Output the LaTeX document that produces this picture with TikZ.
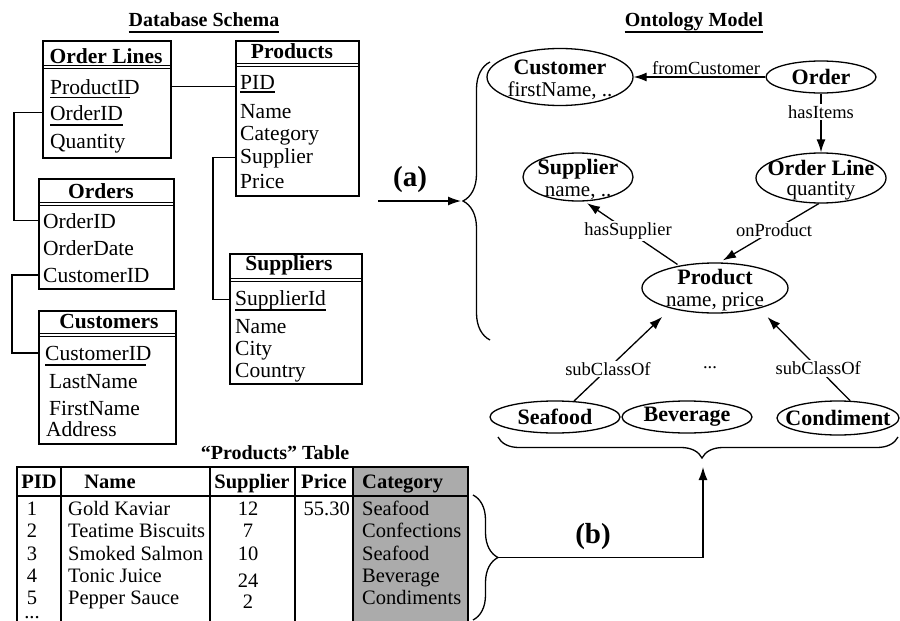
\documentclass[tikz,border=0pt]{standalone}
\usepackage{fontspec}
\setmainfont{Liberation Serif}
\usetikzlibrary{arrows.meta,shapes.geometric,decorations.pathreplacing}

\tikzset{
  box/.style={draw, line width=1.5pt, anchor=north west, inner sep=0pt},
  hsep/.style={line width=1pt},
  fld/.style={anchor=base west, inner sep=0pt, font=\fontsize{21.5}{24}\selectfont},
  hdr/.style={anchor=base, inner sep=0pt, font=\fontsize{21.5}{24}\selectfont\bfseries},
  uline/.style={line width=1.2pt},
  title/.style={anchor=base, inner sep=0pt, font=\fontsize{20}{22}\selectfont\bfseries},
  link/.style={line width=1.3pt},
  ell/.style={draw, ellipse, line width=1.3pt, inner sep=0pt},
  otxt/.style={align=center, inner sep=0pt, yshift=-2.5pt, font=\fontsize{21}{22}\selectfont},
  obold/.style={inner sep=0pt, font=\fontsize{22}{22}\selectfont\bfseries},
  elab/.style={font=\fontsize{18.5}{20}\selectfont, inner sep=1.5pt},
  arr/.style={-{Latex[length=13pt,width=9pt]}, line width=1.3pt},
  tcell/.style={anchor=base west, inner sep=0pt, font=\fontsize{20.5}{22}\selectfont},
  tnum/.style={anchor=base, inner sep=0pt, font=\fontsize{20.5}{22}\selectfont},
  thead/.style={anchor=base, inner sep=0pt, font=\fontsize{20.5}{22}\selectfont\bfseries},
  bigtag/.style={inner sep=0pt, font=\fontsize{29}{30}\selectfont\bfseries},
  bracestyle/.style={decorate, line width=1.3pt},
}

\begin{document}
\begin{tikzpicture}[x=1pt, y=-1pt]
\useasboundingbox (0,0) rectangle (900,621);

% ---------------- Database schema ----------------
\node[title] (dbTitle) at (204,27) {Database Schema};
\draw[uline] ([yshift=-5pt]dbTitle.base west) -- ([yshift=-5pt]dbTitle.base east);

% table boxes
\node[box, minimum width=128pt, minimum height=117pt] (ol) at (42,40) {};
\node[box, minimum width=123pt, minimum height=155pt] (p) at (235,40) {};
\node[box, minimum width=135pt, minimum height=110pt] (o) at (38,178) {};
\node[box, minimum width=137pt, minimum height=133pt] (c) at (38,310) {};
\node[box, minimum width=132pt, minimum height=130pt] (s) at (229,253) {};

% double rules under the headers
\foreach \n/\d in {ol/25, p/23.5, o/24, c/23, s/25}{
  \draw[hsep] ([yshift=-\d pt]\n.north west) -- ([yshift=-\d pt]\n.north east);
  \draw[hsep] ([yshift=-\d pt-3pt]\n.north west) -- ([yshift=-\d pt-3pt]\n.north east);
}

% Order Lines
\node[hdr] (olHead) at (106,63) {Order Lines};
\node[fld] (olProductID) at (50,94) {ProductID};
\node[fld] (olOrderID) at (50,120) {OrderID};
\node[fld] (olQuantity) at (50,148) {Quantity};
\draw[uline] ([yshift=-3.5pt]olProductID.base west) -- ([yshift=-3.5pt,xshift=-10pt]olProductID.base east);
\draw[uline] ([yshift=-5pt]olOrderID.base west) -- ([yshift=-5pt]olOrderID.base east);

% Products
\node[hdr] (pHead) at (292,58) {Products};
\node[fld] (pPID) at (240,89) {PID};
\node[fld] (pName) at (240,118) {Name};
\node[fld] (pCategory) at (240,140) {Category};
\node[fld] (pSupplier) at (240,163) {Supplier};
\node[fld] (pPrice) at (240,188) {Price};
\draw[uline] ([yshift=-3pt]pPID.base west) -- ([yshift=-3pt]pPID.base east);

% Orders
\node[hdr] (oHead) at (101,198) {Orders};
\node[fld] (oOrderID) at (43,228) {OrderID};
\node[fld] (oOrderDate) at (43,255) {OrderDate};
\node[fld] (oCustomerID) at (43,282) {CustomerID};

% Customers
\node[hdr] (cHead) at (109,328) {Customers};
\node[fld] (cCustomerID) at (45,360) {CustomerID};
\node[fld] (cLastName) at (49,388) {LastName};
\node[fld] (cFirstName) at (49,415) {FirstName};
\node[fld] (cAddress) at (46,436) {Address};
\draw[uline] ([yshift=-5pt]cCustomerID.base west) -- ([yshift=-5pt,xshift=-6pt]cCustomerID.base east);

% Suppliers
\node[hdr] (sHead) at (289,270) {Suppliers};
\node[fld] (sSupplierId) at (235,305) {SupplierId};
\node[fld] (sName) at (235,333) {Name};
\node[fld] (sCity) at (235,355) {City};
\node[fld] (sCountry) at (235,377) {Country};
\draw[uline] ([yshift=-5pt]sSupplierId.base west) -- ([yshift=-5pt]sSupplierId.base east);

% key links
\draw[link] (olProductID -| ol.east) -- (olProductID -| p.west);
\draw[link] (olOrderID -| ol.west) -- ++(-28,0) |- (oOrderID -| o.west);
\draw[link] (oCustomerID -| o.west) -- ++(-26,0) |- (cCustomerID -| c.west);
\draw[link] (pSupplier -| p.west) -- ++(-22,0) |- (sSupplierId -| s.west);

% ---------------- Products table ----------------
\node[title] (tblTitle) at (275,459) {``Products'' Table};
\fill[black!33] (353,467) rectangle (468,625);
\draw[line width=1.8pt] (17,625) -- (17,467) -- (468,467) -- (468,625);
\foreach \x in {61,210,295,353}
  \draw[line width=1.5pt] (\x,467) -- (\x,625);
\draw[line width=2.2pt] (17,496) -- (468,496);

\node[thead] (hPID) at (39,488) {PID};
\node[thead] (hName) at (110,488) {Name};
\node[thead] (hSupplier) at (252,488) {Supplier};
\node[thead] (hPrice) at (324,488) {Price};
\node[thead, anchor=base west] (hCategory) at (362,488) {Category};

\foreach \i/\y/\nm/\cat in {1/515/Gold Kaviar/Seafood, 2/537/Teatime Biscuits/Confections,
    3/560/Smoked Salmon/Seafood, 4/582/Tonic Juice/Beverage, 5/604/Pepper Sauce/Condiments}{
  \node[tnum] (rid\i) at (32,\y) {\i};
  \node[tcell] (rname\i) at (68,\y) {\nm};
  \node[tcell] (rcat\i) at (362,\y) {\cat};
}
\node[tnum] (ridMore) at (32,618) {...};
\node[tnum] (rsup1) at (248,515) {12};
\node[tnum] (rsup2) at (248,537) {7};
\node[tnum] (rsup3) at (248,560) {10};
\node[tnum] (rsup4) at (248,587) {24};
\node[tnum] (rsup5) at (248,608) {2};
\node[tnum, anchor=base east] (rprice1) at (350,515) {55.30};

% ---------------- Ontology model ----------------
\node[title] (onTitle) at (694,27) {Ontology Model};
\draw[uline] ([yshift=-5pt]onTitle.base west) -- ([yshift=-5pt]onTitle.base east);

\node[ell, minimum width=146pt, minimum height=57pt,
  label={[otxt, name=customerT]center:{{\bfseries\fontsize{22}{22}\selectfont Customer}\\firstName, ..}}] (customer) at (560,77) {};
\node[ell, minimum width=110pt, minimum height=32pt,
  label={[obold, name=orderT]center:Order}] (order) at (821,77) {};
\node[ell, minimum width=110pt, minimum height=48pt,
  label={[otxt, name=supplierT]center:{{\bfseries\fontsize{22}{22}\selectfont Supplier}\\name, ..}}] (supplier) at (578,177) {};
\node[ell, minimum width=130pt, minimum height=50pt,
  label={[otxt, name=orderlineT]center:{{\bfseries\fontsize{22}{22}\selectfont Order Line}\\[-2pt]quantity}}] (orderline) at (821,178) {};
\node[ell, minimum width=146pt, minimum height=50pt,
  label={[otxt, name=productT]center:{{\bfseries\fontsize{22}{22}\selectfont Product}\\name, price}}] (product) at (715,288) {};
\node[ell, minimum width=130pt, minimum height=32pt,
  label={[obold, name=seafoodT]center:Seafood}] (seafood) at (555,417) {};
\node[ell, minimum width=130pt, minimum height=32pt,
  label={[obold, name=beverageT]center:Beverage}] (beverage) at (687,417) {};
\node[ell, minimum width=122pt, minimum height=34pt,
  label={[obold, name=condimentT]center:Condiment}] (condiment) at (838,418) {};

\draw[arr] (order.west) -- node[elab, above, pos=0.45] (lFrom) {fromCustomer} (customer.east);
\draw[arr] (order.south) -- node[elab, fill=white, pos=0.32] (lItems) {hasItems} (orderline.north);
\draw[arr, shorten <=2pt, shorten >=3pt] (product.148) -- node[elab, fill=white, pos=0.54] (lSup) {hasSupplier} (supplier.-75);
\draw[arr, shorten >=4pt] (orderline.-95) -- node[elab, fill=white, pos=0.45] (lProd) {onProduct} (product.80);
\draw[arr, shorten >=12pt] (seafood.40) -- node[elab, fill=white, pos=0.35] (lSub1) {subClassOf} (product.205);
\draw[arr, shorten >=12pt] (condiment.55) -- node[elab, fill=white, pos=0.35] (lSub2) {subClassOf} (product.-25);
\node[elab] (lDots) at (710,368) {...};

% ---------------- mappings (a) and (b) ----------------
\draw[bracestyle, decoration={brace, amplitude=27pt}] (490,340) -- (490,62);
\coordinate (aTip) at (461,201);
\coordinate (aStart) at (378,201);
\draw[arr] (aStart) -- (aTip);
\node[bigtag] (tagA) at (410,180) {(a)};

\draw[bracestyle, decoration={brace, amplitude=21pt, aspect=0.49}] (898,437) -- (498,437);
\draw[bracestyle, decoration={brace, amplitude=25pt}] (473,495) -- (473,620);
\coordinate (bStart) at (498,557.5);
\coordinate (bEnd) at (703,467);
\draw[arr] (bStart) -| (bEnd);
\node[bigtag] (tagB) at (593,537) {(b)};

\end{tikzpicture}
\end{document}
